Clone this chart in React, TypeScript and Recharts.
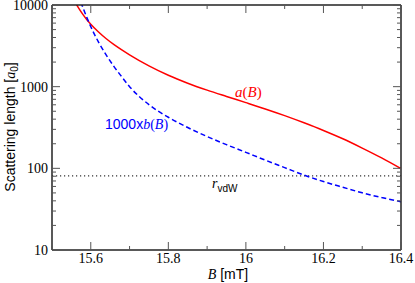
import React from "react";
import { LineChart, Line, XAxis, YAxis, ReferenceLine } from "recharts";

// magnetic field [mT]
const fieldB = [
  15.56, 15.57, 15.58, 15.59, 15.6, 15.62, 15.64, 15.66, 15.68, 15.7, 15.75,
  15.8, 15.85, 15.9, 15.95, 16.0, 16.05, 16.1, 16.15, 16.2, 16.25, 16.3,
  16.35, 16.4,
];
// a(B) [a0]
const scatA = [
  10770, 8950, 7620, 6610, 5820, 4670, 3860, 3270, 2820, 2455, 1799, 1380,
  1103, 907, 759, 638, 534, 442, 361, 291, 230, 177, 134, 99,
];
// 1000 x b(B)
const scatB = [
  16600, 12300, 9230, 7000, 5430, 3510, 2430, 1760, 1320, 1000, 603, 422, 316,
  245, 195, 157, 126, 102, 82.6, 68.9, 58.6, 50.1, 43.9, 39,
];
const rvdw = 81;

const xTicks = [15.5, 15.6, 15.7, 15.8, 15.9, 16.0, 16.1, 16.2, 16.3, 16.4];
const xMajor = [15.6, 15.8, 16.0, 16.2, 16.4];
const yTicks = [
  10, 20, 30, 40, 50, 60, 70, 80, 90, 100, 200, 300, 400, 500, 600, 700, 800,
  900, 1000, 2000, 3000, 4000, 5000, 6000, 7000, 8000, 9000, 10000,
];
const yMajor = [10, 100, 1000, 10000];

const rows = fieldB.map((b, i) => ({ B: b, a: scatA[i], b1000: scatB[i] }));

const serif = "Liberation Serif, Times New Roman, DejaVu Serif, serif";
const sans = "Liberation Sans, Arial, sans-serif";
const tickColor = "#555";

const isMajor = (list: number[], v: number) =>
  list.some((m) => Math.abs(m - v) < 1e-6);

const XTick = (props: any) => {
  const { x, y, payload, side } = props;
  const major = isMajor(xMajor, payload.value);
  const len = major ? 8 : 4;
  const dir = side === "bottom" ? -1 : 1;
  return (
    <g>
      <line x1={x} x2={x} y1={y} y2={y + dir * len} stroke={tickColor} strokeWidth={1} />
      {side === "bottom" && major && (
        <text x={x} y={y + 12.5} textAnchor="middle" style={{ fontFamily: serif }} fontSize={14} fill="#000">
          {String(Number(payload.value.toFixed(1)))}
        </text>
      )}
    </g>
  );
};

const YTick = (props: any) => {
  const { x, y, payload, side } = props;
  const major = isMajor(yMajor, payload.value);
  const len = major ? 8 : 4;
  const dir = side === "left" ? 1 : -1;
  return (
    <g>
      <line x1={x} x2={x + dir * len} y1={y} y2={y} stroke={tickColor} strokeWidth={1} />
      {side === "left" && major && (
        <text x={x - 4} y={y} dy="0.35em" textAnchor="end" style={{ fontFamily: serif }} fontSize={14} fill="#000">
          {payload.value}
        </text>
      )}
    </g>
  );
};

const axisLine = { stroke: "#222", strokeWidth: 1.5 };

const App = () => {
  return (
    <div style={{ position: "absolute", left: 0, top: 0, width: 415, height: 283 }}>
      <LineChart
        width={415}
        height={283}
        data={rows}
        margin={{ top: 4, right: 13, bottom: 32, left: 0 }}
      >
        <XAxis
          xAxisId="bottom"
          dataKey="B"
          type="number"
          domain={[15.5, 16.4]}
          ticks={xTicks}
          interval={0}
          allowDataOverflow
          height={1}
          tickSize={0}
          tickMargin={0}
          axisLine={axisLine}
          tick={(p: any) => <XTick {...p} side="bottom" />}
        />
        <XAxis
          xAxisId="top"
          orientation="top"
          dataKey="B"
          type="number"
          domain={[15.5, 16.4]}
          ticks={xTicks}
          interval={0}
          allowDataOverflow
          height={1}
          tickSize={0}
          tickMargin={0}
          axisLine={axisLine}
          tick={(p: any) => <XTick {...p} side="top" />}
        />
        <YAxis
          yAxisId="left"
          scale="log"
          type="number"
          domain={[10, 10000]}
          ticks={yTicks}
          interval={0}
          allowDataOverflow
          width={52}
          tickSize={0}
          tickMargin={0}
          axisLine={axisLine}
          tick={(p: any) => <YTick {...p} side="left" />}
        />
        <YAxis
          yAxisId="right"
          orientation="right"
          scale="log"
          type="number"
          domain={[10, 10000]}
          ticks={yTicks}
          interval={0}
          allowDataOverflow
          width={1}
          tickSize={0}
          tickMargin={0}
          axisLine={axisLine}
          tick={(p: any) => <YTick {...p} side="right" />}
        />
        <ReferenceLine
          xAxisId="bottom"
          yAxisId="left"
          y={rvdw}
          stroke="#333"
          strokeWidth={1.2}
          strokeDasharray="1.2 2.8"
        />
        <Line
          xAxisId="bottom"
          yAxisId="left"
          dataKey="a"
          type="monotone"
          stroke="#ff0000"
          strokeWidth={1.5}
          dot={false}
          isAnimationActive={false}
        />
        <Line
          xAxisId="bottom"
          yAxisId="left"
          dataKey="b1000"
          type="monotone"
          stroke="#0000ff"
          strokeWidth={1.5}
          strokeDasharray="5 3"
          dot={false}
          isAnimationActive={false}
        />
      </LineChart>
      <svg
        width={415}
        height={283}
        style={{ position: "absolute", left: 0, top: 0, pointerEvents: "none" }}
      >
        <text x={228} y={279} textAnchor="middle" fontSize={14} fill="#000">
          <tspan style={{ fontFamily: serif, fontStyle: "italic" }}>B</tspan>
          <tspan style={{ fontFamily: sans }}> [mT]</tspan>
        </text>
        <text
          x={0}
          y={0}
          transform="translate(15,127) rotate(-90)"
          textAnchor="middle"
          fontSize={14}
          fill="#000"
        >
          <tspan style={{ fontFamily: sans }}>Scattering length [</tspan>
          <tspan style={{ fontFamily: serif, fontStyle: "italic" }}>a</tspan>
          <tspan style={{ fontFamily: sans }} fontSize={10} dy={3}>0</tspan>
          <tspan style={{ fontFamily: sans }} dy={-3}>]</tspan>
        </text>
        <text x={235} y={97} fontSize={15} fill="#ff0000" style={{ fontFamily: serif }}>
          <tspan fontStyle="italic">a</tspan>
          <tspan>(</tspan>
          <tspan fontStyle="italic">B</tspan>
          <tspan>)</tspan>
        </text>
        <text x={105} y={129} fontSize={14} fill="#0000ff">
          <tspan style={{ fontFamily: sans }}>1000x</tspan>
          <tspan style={{ fontFamily: serif, fontStyle: "italic" }}>b</tspan>
          <tspan style={{ fontFamily: serif }}>(</tspan>
          <tspan style={{ fontFamily: serif, fontStyle: "italic" }}>B</tspan>
          <tspan style={{ fontFamily: serif }}>)</tspan>
        </text>
        <text x={212} y={188} fontSize={14} fill="#000">
          <tspan style={{ fontFamily: serif, fontStyle: "italic" }}>r</tspan>
          <tspan style={{ fontFamily: sans }} fontSize={10} dy={4}>vdW</tspan>
        </text>
      </svg>
    </div>
  );
};

export default App;
